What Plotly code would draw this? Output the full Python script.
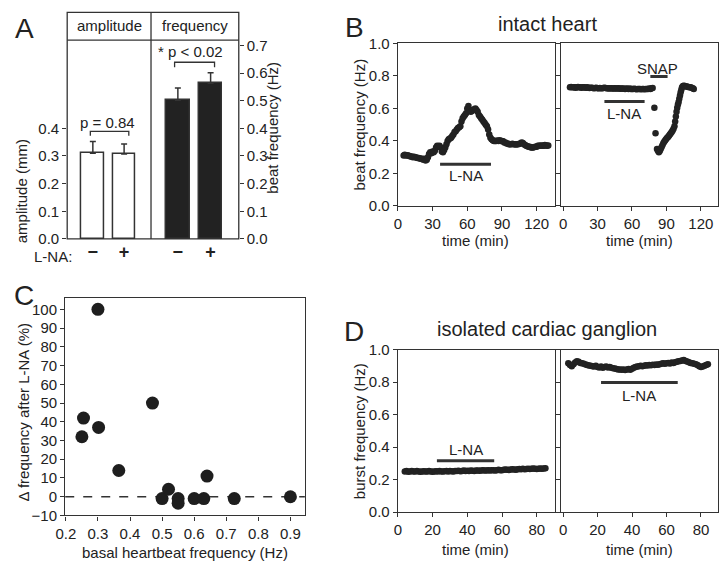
import plotly.graph_objects as go

W, H = 720, 571
FONT = "Liberation Sans, Arial, Helvetica, sans-serif"
INK = "#222222"
LINE = "#333333"

# ---------------- data ----------------
lna_labels = ["−", "+"]
amp_mean = [0.310, 0.307]
amp_err = [0.042, 0.036]
freq_mean = [0.502, 0.563]
freq_err = [0.044, 0.038]

# panel B left (intact heart, L-NA only)
b1_t = list(range(5, 131))
b1_f = [0.31, 0.315, 0.31, 0.312, 0.31, 0.308, 0.305, 0.305, 0.30, 0.302,
        0.30, 0.298, 0.295, 0.295, 0.292, 0.29, 0.29, 0.285, 0.29, 0.28,
        0.285, 0.30, 0.32, 0.33, 0.325, 0.335, 0.33, 0.34, 0.36, 0.37,
        0.365, 0.37, 0.36, 0.335, 0.33, 0.345, 0.36, 0.38, 0.40, 0.41,
        0.415, 0.42, 0.43, 0.44, 0.455, 0.46, 0.47, 0.48, 0.485, 0.49,
        0.52, 0.54, 0.55, 0.56, 0.57, 0.60, 0.615, 0.59, 0.58, 0.585,
        0.59, 0.595, 0.60, 0.59, 0.58, 0.56, 0.55, 0.54, 0.53, 0.52,
        0.51, 0.50, 0.49, 0.47, 0.44, 0.42, 0.41, 0.405, 0.40, 0.40,
        0.40, 0.402, 0.40, 0.405, 0.40, 0.40, 0.398, 0.39, 0.39, 0.385,
        0.385, 0.38, 0.38, 0.38, 0.382, 0.38, 0.38, 0.378, 0.38, 0.38,
        0.382, 0.385, 0.39, 0.388, 0.38, 0.375, 0.37, 0.368, 0.365, 0.365,
        0.36, 0.36, 0.36, 0.362, 0.365, 0.365, 0.37, 0.37, 0.37, 0.372,
        0.37, 0.37, 0.375, 0.372, 0.37, 0.372]

# panel B right (intact heart, L-NA then SNAP)
b2_t = list(range(6, 79)) + [
    79.5, 80.5, 81.8, 82.6, 83.4, 84.2, 85, 85.8, 86.6, 87.4, 88.2, 89, 89.8,
    90.6, 91.4, 92.2, 93, 93.8, 94.6, 95.4, 96.2, 97, 97.6, 98.2, 98.8, 99.4,
    100, 100.6, 101.2, 101.8, 102.4, 103, 103.6, 104.4, 105.2, 106, 107, 108,
    109, 110, 111, 112, 113, 113.8]
b2_f = [0.73, 0.732, 0.73, 0.731, 0.73, 0.728, 0.73, 0.732, 0.73, 0.73,
        0.728, 0.73, 0.73, 0.729, 0.727, 0.73, 0.728, 0.726, 0.727, 0.728,
        0.726, 0.725, 0.726, 0.727, 0.725, 0.724, 0.726, 0.725, 0.724, 0.726,
        0.728, 0.726, 0.724, 0.725, 0.723, 0.724, 0.725, 0.723, 0.722, 0.724,
        0.723, 0.722, 0.724, 0.722, 0.721, 0.722, 0.723, 0.721, 0.72, 0.722,
        0.721, 0.72, 0.722, 0.72, 0.719, 0.72, 0.721, 0.719, 0.718, 0.72,
        0.72, 0.719, 0.718, 0.72, 0.719, 0.718, 0.72, 0.719, 0.72, 0.722,
        0.72, 0.724, 0.726,
        0.605, 0.447, 0.35, 0.34, 0.33, 0.338, 0.35, 0.362, 0.375, 0.387,
        0.397, 0.405, 0.412, 0.42, 0.425, 0.432, 0.44, 0.448, 0.455, 0.465,
        0.475, 0.49, 0.52, 0.55, 0.58, 0.605, 0.625, 0.64, 0.66, 0.68,
        0.70, 0.715, 0.73, 0.738, 0.74, 0.738, 0.735, 0.735, 0.732, 0.73,
        0.73, 0.728, 0.724, 0.72]

# panel C
basal_hz = [0.30, 0.255, 0.25, 0.302, 0.365, 0.47, 0.50, 0.52, 0.55, 0.55,
            0.60, 0.63, 0.64, 0.725, 0.90]
delta_pct = [100, 42, 32, 37, 14, 50, -1, 4, -1, -3.5, -1, -1, 11, -1, 0]

# panel D left (isolated ganglion)
d1_t = list(range(4, 86))
d1_f = [0.25, 0.252, 0.248, 0.25, 0.253, 0.25, 0.249, 0.252, 0.25, 0.248,
        0.25, 0.251, 0.249, 0.25, 0.252, 0.25, 0.248, 0.25, 0.251, 0.25,
        0.252, 0.25, 0.249, 0.251, 0.253, 0.25, 0.252, 0.251, 0.25, 0.253,
        0.252, 0.254, 0.251, 0.253, 0.255, 0.252, 0.254, 0.253, 0.255, 0.254,
        0.253, 0.255, 0.256, 0.254, 0.255, 0.257, 0.255, 0.256, 0.258, 0.256,
        0.257, 0.258, 0.256, 0.258, 0.26, 0.258, 0.257, 0.26, 0.262, 0.26,
        0.259, 0.262, 0.264, 0.262, 0.26, 0.263, 0.265, 0.264, 0.266, 0.264,
        0.265, 0.267, 0.265, 0.266, 0.268, 0.266, 0.265, 0.267, 0.268, 0.266,
        0.268, 0.27]

# panel D right
d2_t = list(range(3, 85))
d2_f = [0.915, 0.905, 0.898, 0.91, 0.92, 0.928, 0.925, 0.918, 0.915, 0.912,
        0.908, 0.905, 0.902, 0.9, 0.898, 0.895, 0.9, 0.893, 0.89, 0.895,
        0.888, 0.892, 0.895, 0.89, 0.893, 0.888, 0.885, 0.883, 0.88, 0.878,
        0.877, 0.875, 0.878, 0.874, 0.878, 0.88, 0.876, 0.882, 0.888, 0.893,
        0.895, 0.898, 0.9, 0.897, 0.9, 0.903, 0.902, 0.905, 0.903, 0.906,
        0.905, 0.908, 0.906, 0.91, 0.913, 0.915, 0.912, 0.916, 0.918, 0.914,
        0.92, 0.918, 0.922, 0.925, 0.928, 0.93, 0.932, 0.935, 0.93, 0.926,
        0.922, 0.918, 0.915, 0.912, 0.91, 0.905, 0.898, 0.893, 0.895, 0.9,
        0.905, 0.91]

# drug application bars (start, end, level) in data units
b1_lna = (36.5, 80.5, 0.257)
b2_lna = (36, 71, 0.642)
b2_snap = (76, 91, 0.796)
d1_lna = (22.5, 55.5, 0.315)
d2_lna = (22, 66.5, 0.797)


# ---------------- helpers ----------------
def PX(x):
    return x / W


def PY(y):
    return 1 - y / H


fig = go.Figure()

tickfont = dict(family=FONT, size=15, color=INK)
A_YR = [0, (237 - 32) / 285.0]

common_ax = dict(showgrid=False, zeroline=False, linecolor=LINE, linewidth=1.3,
                 tickcolor=LINE, tickwidth=1.3, ticklen=4, ticks="outside",
                 tickfont=tickfont)
tick_only = {k: v for k, v in common_ax.items() if k not in ("linecolor", "linewidth")}

# ----- Panel A -----
fig.add_trace(go.Bar(x=lna_labels, y=amp_mean, xaxis="x", yaxis="y", width=0.72,
                     marker=dict(color="white", line=dict(color=LINE, width=1.5)),
                     error_y=dict(type="data", symmetric=False, array=amp_err,
                                  arrayminus=[0, 0], color=LINE, thickness=1.5, width=3),
                     showlegend=False))
fig.add_trace(go.Bar(x=lna_labels, y=freq_mean, xaxis="x2", yaxis="y2", width=0.72,
                     marker=dict(color="#222222", line=dict(color=LINE, width=1.5)),
                     error_y=dict(type="data", symmetric=False, array=freq_err,
                                  arrayminus=[0, 0], color=LINE, thickness=1.5, width=3),
                     showlegend=False))

a_x = dict(showgrid=False, zeroline=False, showline=False, ticks="", type="category",
           range=[-0.82, 1.86], tickfont=dict(family=FONT, size=18, color=INK, weight="bold"),
           fixedrange=True)
fig.update_layout(
    xaxis=dict(domain=[PX(58), PX(143)], anchor="y", **a_x),
    xaxis2=dict(domain=[PX(143), PX(232)], anchor="y2", **a_x),
    yaxis=dict(domain=[PY(237), PY(32)], anchor="x", range=A_YR,
               tickvals=[0, 0.1, 0.2, 0.3, 0.4], tickformat=".1f",
               showline=False, **tick_only),
    yaxis2=dict(domain=[PY(237), PY(32)], anchor="x2", range=A_YR, side="right",
                tickvals=[0, 0.1, 0.2, 0.3, 0.4, 0.5, 0.6, 0.7], tickformat=".1f",
                showline=False, **tick_only),
)

shapes = []
# frame of panel A
shapes.append(dict(type="rect", xref="paper", yref="paper", x0=PX(58), x1=PX(232),
                   y0=PY(237), y1=PY(3.5), line=dict(color=LINE, width=1.3)))
shapes.append(dict(type="line", xref="paper", yref="paper", x0=PX(58), x1=PX(232),
                   y0=PY(32), y1=PY(32), line=dict(color=LINE, width=1.3)))
shapes.append(dict(type="line", xref="paper", yref="paper", x0=PX(143), x1=PX(143),
                   y0=PY(237), y1=PY(3.5), line=dict(color=LINE, width=1.3)))
# significance brackets
for xr, yr, y_top, y_end, x0, x1 in [("x", "y", 0.389, 0.373, -0.08, 1.15),
                                     ("x2", "y2", 0.639, 0.621, -0.1, 1.12)]:
    shapes.append(dict(type="path", xref=xr, yref=yr,
                       path=f"M {x0} {y_end} L {x0} {y_top} L {x1} {y_top} L {x1} {y_end}",
                       line=dict(color=LINE, width=1.3)))

annotations = []


def txt(x, y, s, size=15, xanchor="center", yanchor="middle", angle=0):
    annotations.append(dict(x=PX(x), y=PY(y), xref="paper", yref="paper", text=s,
                            showarrow=False, xanchor=xanchor, yanchor=yanchor,
                            textangle=angle, font=dict(family=FONT, size=size, color=INK)))


txt(100.5, 17.5, "amplitude", 15)
txt(187.5, 17.5, "frequency", 15)
txt(98.5, 117, "p = 0.84", 15)
txt(183.5, 44, "* p < 0.02", 15)
txt(44, 255, "L-NA:", 15)
txt(12, 188, "amplitude (mm)", 15, angle=-90)
txt(266, 122, "beat frequency (Hz)", 15, angle=-90)

# ----- Panel B & D time courses -----
dot = dict(color="#222222", size=6.5)
series = [(b1_t, b1_f, "x3", "y3"), (b2_t, b2_f, "x4", "y4"),
          (d1_t, d1_f, "x6", "y6"), (d2_t, d2_f, "x7", "y7")]
for t, f, xa, ya in series:
    fig.add_trace(go.Scatter(x=t, y=f, xaxis=xa, yaxis=ya, mode="markers",
                             marker=dot, showlegend=False))

box = dict(mirror=True, showline=True, **common_ax)
ytick01 = dict(tickvals=[0, 0.2, 0.4, 0.6, 0.8, 1.0], tickformat=".1f", range=[0, 1])
fig.update_layout(
    xaxis3=dict(domain=[PX(393.3), PX(552.3)], anchor="y3", range=[0, 135.5],
                tickvals=[0, 30, 60, 90, 120], **box),
    yaxis3=dict(domain=[PY(203), PY(35.5)], anchor="x3", **ytick01, **box),
    xaxis4=dict(domain=[PX(559), PX(717.5)], anchor="y4", range=[-1.6, 134.5],
                tickvals=[0, 30, 60, 90, 120], **box),
    yaxis4=dict(domain=[PY(203), PY(35.5)], anchor="x4", showticklabels=False, **ytick01, **box),
    xaxis6=dict(domain=[PX(393.3), PX(552.3)], anchor="y6", range=[0, 90.3],
                tickvals=[0, 20, 40, 60, 80], **box),
    yaxis6=dict(domain=[PY(518.5), PY(351)], anchor="x6", **ytick01, **box),
    xaxis7=dict(domain=[PX(559), PX(717.5)], anchor="y7", range=[-1.1, 89.6],
                tickvals=[0, 20, 40, 60, 80], **box),
    yaxis7=dict(domain=[PY(518.5), PY(351)], anchor="x7", showticklabels=False, **ytick01, **box),
)

for (x0, x1, yv), xr, yr in [(b1_lna, "x3", "y3"), (b2_lna, "x4", "y4"), (b2_snap, "x4", "y4"),
                             (d1_lna, "x6", "y6"), (d2_lna, "x7", "y7")]:
    shapes.append(dict(type="line", xref=xr, yref=yr, x0=x0, x1=x1, y0=yv, y1=yv,
                       line=dict(color="#333333", width=3)))

txt(545, 15, "intact heart", 20)
txt(545, 330, "isolated cardiac ganglion", 20)
txt(462, 172, "L-NA", 15)
txt(623, 108, "L-NA", 15)
txt(657, 61, "SNAP", 15)
txt(462, 454, "L-NA", 15)
txt(638, 398, "L-NA", 15)
txt(472, 239, "time (min)", 15)
txt(638, 239, "time (min)", 15)
txt(472, 557, "time (min)", 15)
txt(638, 557, "time (min)", 15)
txt(354, 119, "beat frequency (Hz)", 15, angle=-90)
txt(354, 435, "burst frequency (Hz)", 15, angle=-90)

# ----- Panel C -----
fig.add_trace(go.Scatter(x=basal_hz, y=delta_pct, xaxis="x5", yaxis="y5", mode="markers",
                         marker=dict(color="#1e1e1e", size=13), showlegend=False))
fig.update_layout(
    xaxis5=dict(domain=[PX(56), PX(299)], anchor="y5", range=[0.198, 0.945],
                tickvals=[0.2, 0.3, 0.4, 0.5, 0.6, 0.7, 0.8, 0.9], tickformat=".1f", **box),
    yaxis5=dict(domain=[PY(522), PY(298)], anchor="x5", range=[-10, 106],
                tickvals=list(range(-10, 101, 10)), **box),
)
shapes.append(dict(type="line", xref="x5 domain", yref="y5", x0=0, x1=1, y0=0, y1=0,
                   line=dict(color="#333333", width=1.3, dash="dash"), layer="below"))
txt(177, 560, "basal heartbeat frequency (Hz)", 15)
txt(14, 416, "Δ frequency after L-NA (%)", 15, angle=-90)

# panel letters
txt(15, 20, "A", 28)
txt(349, 19, "B", 28)
txt(14, 295, "C", 28)
txt(349, 332, "D", 28)

fig.update_layout(width=W, height=H, margin=dict(l=0, r=0, t=0, b=0),
                  paper_bgcolor="white", plot_bgcolor="rgba(0,0,0,0)",
                  shapes=shapes, annotations=annotations, bargap=0,
                  font=dict(family=FONT, color=INK))

# remove the browser's default 8px body margin so the figure sits at the page origin
fig.write_html("out.html", config={"displayModeBar": False},
               post_script="document.body.style.margin='0';")
